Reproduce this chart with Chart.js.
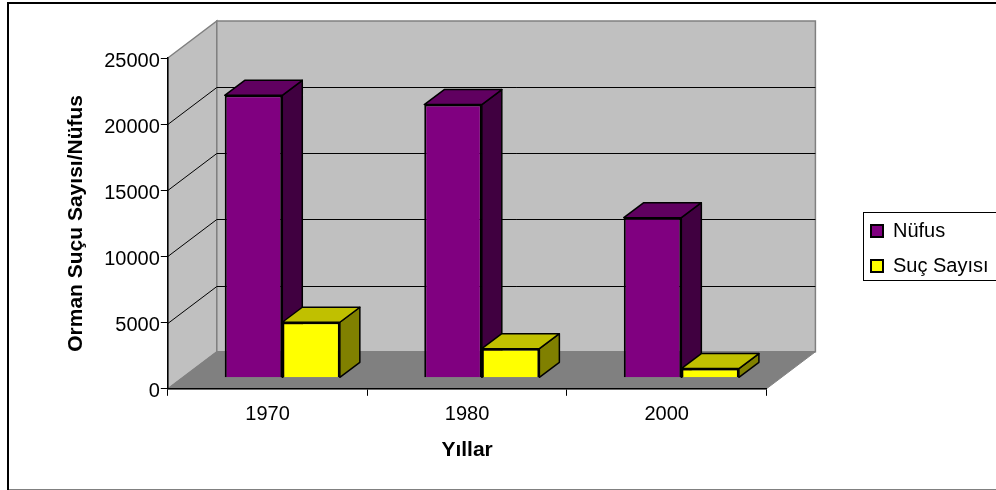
<!DOCTYPE html>
<html>
<head>
<meta charset="utf-8">
<title>Orman Suçu Sayısı/Nüfus</title>
<script src="https://cdn.jsdelivr.net/npm/chart.js@4"></script>
<style>
html, body { margin: 0; padding: 0; background: #fff; }
#wrap { position: relative; width: 996px; height: 490px; }
</style>
</head>
<body>
<div id="wrap"><canvas id="chart"></canvas></div>
<script>
// Values
const years = ['1970', '1980', '2000'];
const nufus = [21350, 20650, 12100];
const sucSayisi = [4200, 2200, 700];
const yTicks = [0, 5000, 10000, 15000, 20000, 25000];

// 3D look: how far the back wall and the bars sit from the front axes
const wallDepth = { x: 49, y: -37 };
const barShift = { x: 14.7, y: -11 };
const barDepth = { x: 20, y: -15 };
const faceColors = {
    Nüfus: { side: '#400040', top: '#600060' },
    'Suç Sayısı': { side: '#808000', top: '#C0C000' }
};

function poly(ctx, points, fill, stroke, lineWidth) {
    ctx.beginPath();
    points.forEach((p, i) => i ? ctx.lineTo(p[0], p[1]) : ctx.moveTo(p[0], p[1]));
    ctx.closePath();
    if (fill) {
        ctx.fillStyle = fill;
        ctx.fill();
    }
    if (stroke) {
        ctx.strokeStyle = stroke;
        ctx.lineWidth = lineWidth || 1;
        ctx.stroke();
    }
}

// Frame, walls, floor and wall gridlines
const wallsPlugin = {
    id: 'walls',
    beforeDraw(chart) {
        const { ctx, chartArea: a, scales } = chart;
        const dx = wallDepth.x, dy = wallDepth.y;
        ctx.save();
        // outer frame: no right edge, bottom edge is grey
        ctx.strokeStyle = '#808080';
        ctx.lineWidth = 1;
        ctx.beginPath();
        ctx.moveTo(8, 489.5);
        ctx.lineTo(996, 489.5);
        ctx.stroke();
        ctx.strokeStyle = '#000';
        ctx.lineWidth = 2;
        ctx.beginPath();
        ctx.moveTo(8, 490);
        ctx.lineTo(8, 3);
        ctx.lineTo(996, 3);
        ctx.stroke();

        poly(ctx, [[a.left, a.top], [a.left + dx, a.top + dy], [a.left + dx, a.bottom + dy], [a.left, a.bottom]], '#C0C0C0', '#808080', 1.5);
        poly(ctx, [[a.left + dx, a.top + dy], [a.right + dx, a.top + dy], [a.right + dx, a.bottom + dy], [a.left + dx, a.bottom + dy]], '#C0C0C0', '#808080', 1.5);
        poly(ctx, [[a.left, a.bottom], [a.left + dx, a.bottom + dy], [a.right + dx, a.bottom + dy], [a.right, a.bottom]], '#808080', '#808080', 1);

        ctx.strokeStyle = '#000';
        ctx.lineWidth = 1;
        yTicks.slice(1, -1).forEach(v => {
            const y = Math.round(scales.y.getPixelForValue(v)) + 0.5;
            ctx.beginPath();
            ctx.moveTo(a.left, y);
            ctx.lineTo(a.left + dx, y + dy);
            ctx.lineTo(a.right + dx, y + dy);
            ctx.stroke();
        });
        ctx.restore();
    },
    afterDraw(chart) {
        const { ctx } = chart;
        ctx.save();
        ctx.strokeStyle = '#000';
        ctx.lineWidth = 1;
        ctx.strokeRect(863.5, 212.5, 140, 68);
        ctx.restore();
    }
};

// Shifts the real bars into the room and adds their side and top faces.
// Chart.js paints the first dataset last, so the faces go in first, in dataset order.
const barFacesPlugin = {
    id: 'barFaces',
    beforeDatasetsDraw(chart) {
        const { ctx } = chart;
        ctx.save();
        ctx.translate(barShift.x, barShift.y);
        ctx.lineJoin = 'round';
        chart.data.datasets.forEach((ds, i) => {
            const colors = faceColors[ds.label];
            chart.getDatasetMeta(i).data.forEach(bar => {
                const l = bar.x - bar.width / 2, r = bar.x + bar.width / 2;
                const t = bar.y, b = bar.base;
                const dx = barDepth.x, dy = barDepth.y;
                poly(ctx, [[r, t], [r + dx, t + dy], [r + dx, b + dy], [r, b]], colors.side, '#000', 1.5);
                poly(ctx, [[l, t], [l + dx, t + dy], [r + dx, t + dy], [r, t]], colors.top, '#000', 1.5);
            });
        });
    },
    afterDatasetsDraw(chart) {
        chart.ctx.restore();
    }
};

// The legend sits away from the plot, so move it after layout
const legendPlacePlugin = {
    id: 'legendPlace',
    afterLayout(chart) {
        const lg = chart.legend;
        const w = lg.width, h = lg.height;
        lg.left = 856;
        lg.right = 856 + w;
        lg.top = 206;
        lg.bottom = 206 + h;
    }
};

Chart.defaults.font.family = '"Liberation Sans", Arial, sans-serif';
Chart.defaults.color = '#000';

new Chart(document.getElementById('chart'), {
    type: 'bar',
    data: {
        labels: years,
        datasets: [
            { label: 'Nüfus', data: nufus, backgroundColor: '#800080', borderColor: '#000', borderWidth: 2, clip: false },
            { label: 'Suç Sayısı', data: sucSayisi, backgroundColor: '#FFFF00', borderColor: '#000', borderWidth: 2, clip: false }
        ]
    },
    options: {
        responsive: true,
        maintainAspectRatio: false,
        animation: false,
        layout: { padding: { left: 64, right: 87, top: 58, bottom: 25 } },
        datasets: { bar: { categoryPercentage: 0.577, barPercentage: 1 } },
        plugins: {
            tooltip: { enabled: false },
            legend: {
                position: 'right',
                align: 'start',
                labels: {
                    boxWidth: 12,
                    boxHeight: 12,
                    padding: 15,
                    color: '#000',
                    font: { size: 20 }
                }
            }
        },
        scales: {
            x: {
                offset: true,
                grid: { offset: true, drawOnChartArea: false, color: '#000', tickLength: 7, tickColor: '#000' },
                border: { color: '#000', width: 1.5 },
                ticks: { font: { size: 20 }, maxRotation: 0, padding: 7 },
                title: { display: true, text: 'Yıllar', font: { size: 21, weight: 'bold' }, padding: { top: 4, bottom: 2 } }
            },
            y: {
                min: 0,
                max: 25000,
                afterBuildTicks(axis) {
                    axis.ticks = yTicks.map(v => ({ value: v }));
                },
                grid: { drawOnChartArea: false, color: '#000', tickLength: 7, tickColor: '#000' },
                border: { color: '#000', width: 1.5 },
                ticks: { font: { size: 20 }, padding: 1, labelOffset: 3, callback: v => String(v) },
                title: { display: true, text: 'Orman Suçu Sayısı/Nüfus', font: { size: 21, weight: 'bold' }, padding: { top: 0, bottom: 14 } }
            }
        }
    },
    plugins: [wallsPlugin, barFacesPlugin, legendPlacePlugin]
});
</script>
</body>
</html>
